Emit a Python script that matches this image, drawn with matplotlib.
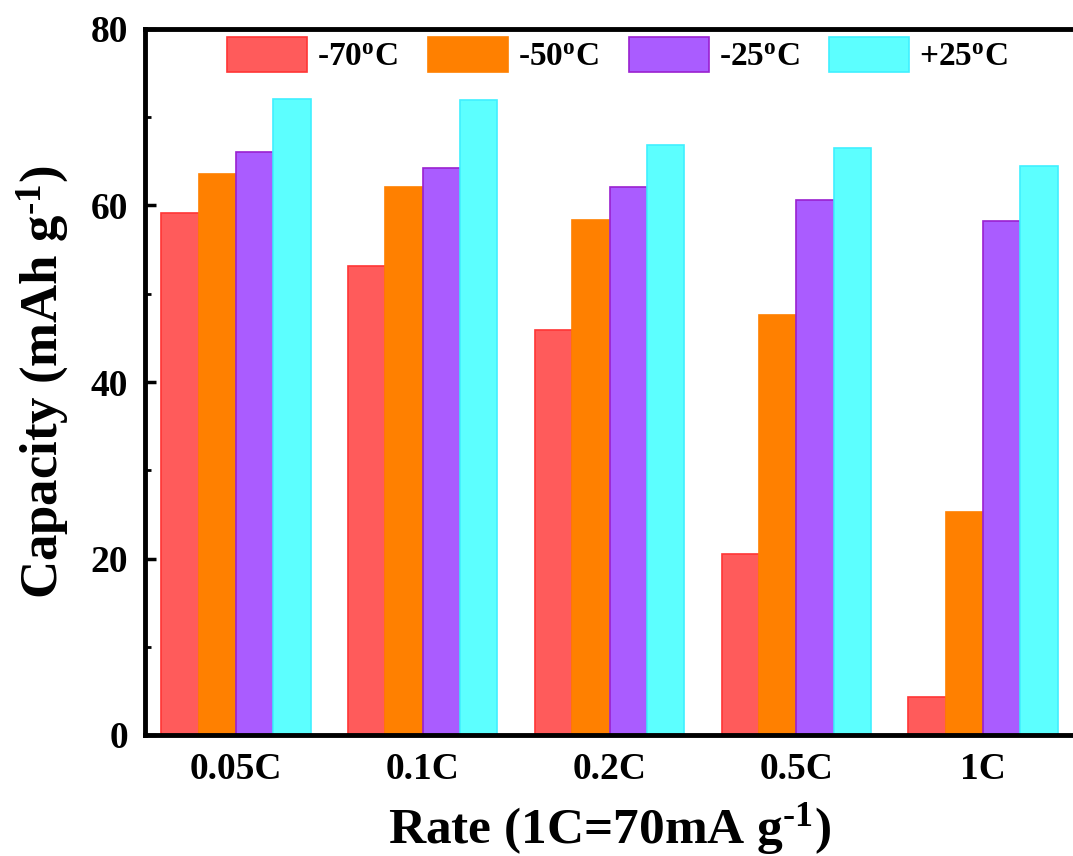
import matplotlib
matplotlib.use("Agg")
import matplotlib.pyplot as plt
import numpy as np

categories = ["0.05C", "0.1C", "0.2C", "0.5C", "1C"]
series_labels = ["-70$\\mathregular{^o}$C", "-50$\\mathregular{^o}$C",
                 "-25$\\mathregular{^o}$C", "+25$\\mathregular{^o}$C"]
cap_m70 = [59.2, 53.1, 45.9, 20.5, 4.3]
cap_m50 = [63.6, 62.1, 58.4, 47.6, 25.3]
cap_m25 = [66.1, 64.2, 62.1, 60.6, 58.2]
cap_p25 = [72.1, 72.0, 66.9, 66.5, 64.5]
y_ticks = [0, 20, 40, 60, 80]

face_colors = ["#FF5B5B", "#FF8000", "#AA5CFF", "#5CFFFF"]
edge_colors = ["#FF3535", "#FF8000", "#9A20D0", "#40F0FF"]

plt.rcParams['font.family'] = ['Liberation Serif', 'DejaVu Serif']
plt.rcParams['font.weight'] = 'bold'
plt.rcParams['mathtext.fontset'] = 'custom'
plt.rcParams['mathtext.rm'] = 'Liberation Serif:bold'
plt.rcParams['mathtext.it'] = 'Liberation Serif:bold'
plt.rcParams['mathtext.bf'] = 'Liberation Serif:bold'

fig = plt.figure(figsize=(10.73, 8.56), dpi=100)
ax = fig.add_axes([145/1073, 1-735/856, (1074-145)/1073, (735-29)/856])

x = np.arange(len(categories))
w = 0.2
all_series = [cap_m70, cap_m50, cap_m25, cap_p25]
handles = []
for i, vals in enumerate(all_series):
    b = ax.bar(x + (i - 1.5) * w, vals, width=w, color=face_colors[i],
               edgecolor=edge_colors[i], linewidth=1.2, label=series_labels[i])
    handles.append(b)

ax.set_xlim(-0.488, 4.488)
ax.set_ylim(0, 80)
ax.set_yticks(y_ticks)
ax.set_yticks([10, 30, 50, 70], minor=True)
ax.set_xticks(x)
ax.set_xticklabels(categories)

for s in ['left', 'top', 'bottom']:
    ax.spines[s].set_linewidth(3.5)
ax.spines['right'].set_visible(False)

ax.tick_params(axis='y', which='major', direction='in', length=8, width=2.5,
               labelsize=27, pad=12)
ax.tick_params(axis='y', which='minor', direction='in', length=4, width=2)
ax.tick_params(axis='x', which='both', length=0, labelsize=27, pad=12)
for lab in ax.get_xticklabels() + ax.get_yticklabels():
    lab.set_fontweight('bold')

ax.set_xlabel("Rate (1C=70mA g$^{\\text{-1}}$)", fontsize=37,
              fontweight='bold', labelpad=10)
ax.set_ylabel("Capacity (mAh g$^{\\text{-1}}$)", fontsize=38,
              fontweight='bold', labelpad=14)

leg = fig.legend(handles=handles, labels=series_labels, loc='center left',
                 bbox_to_anchor=(227/1073, 1-55/856), ncol=4, frameon=False,
                 prop={'size': 24, 'weight': 'bold'}, borderpad=0,
                 borderaxespad=0, handlelength=2.4, handleheight=1.2,
                 handletextpad=0.3, columnspacing=0.9)

fig.savefig("out.png", dpi=100)
